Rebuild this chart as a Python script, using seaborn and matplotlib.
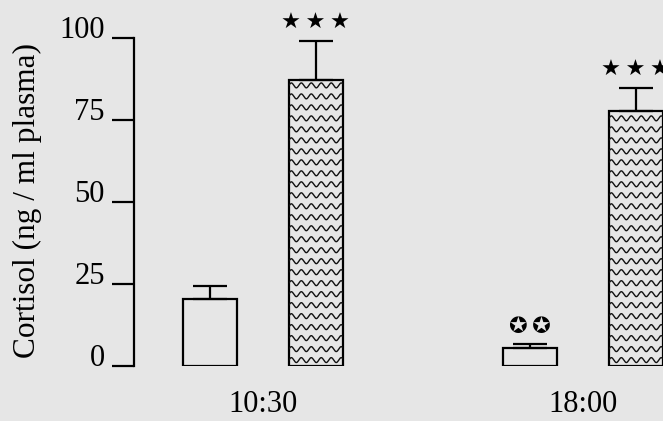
import numpy as np
import pandas as pd
import matplotlib
matplotlib.use("Agg")
import matplotlib.pyplot as plt
import seaborn as sns

# data
times = ['10:30', '18:00']
groups = ['control', 'treated']
time_col = ['10:30', '10:30', '18:00', '18:00']
group_col = ['control', 'treated', 'control', 'treated']
cortisol = [20.4, 87.2, 5.4, 77.8]
sem = [4.0, 12.0, 1.3, 7.1]
marks = ['', '★\u2009★\u2009★', '✪\u2009✪', '★\u2009★\u2009★']
yticks = [0, 25, 50, 75, 100]

bg = '#e6e6e6'

df = pd.DataFrame({'time': time_col, 'group': group_col,
                   'cortisol': cortisol, 'err': sem, 'mark': marks})

sns.set_theme(style='white')
plt.rcParams['font.family'] = ['Liberation Serif', 'DejaVu Sans']

fig = plt.figure(figsize=(6.63, 4.21), dpi=100, facecolor=bg)
ax = fig.add_axes([134 / 663, 55 / 421, 529 / 663, 328 / 421])
ax.set_facecolor(bg)

sns.barplot(data=df, x='time', y='cortisol', hue='group', order=times,
            hue_order=groups, width=0.66, gap=0.49, errorbar=None,
            legend=False, palette=[bg, bg], saturation=1,
            edgecolor='black', linewidth=1.6, ax=ax)

bar_conts = list(ax.containers)
for gi, cont in enumerate(bar_conts):
    for ti, bar in enumerate(cont):
        row = df[(df['time'] == times[ti]) & (df['group'] == groups[gi])].iloc[0]
        bar.set_facecolor(bg)
        x0, w = bar.get_x(), bar.get_width()
        xc = x0 + w / 2
        top = bar.get_height()
        ax.errorbar(xc, top, yerr=[[0], [row['err']]], color='black', lw=1.6,
                    capsize=12.5, capthick=1.6, zorder=1)
        if row['mark']:
            ax.annotate(row['mark'], (xc, top + row['err']), xytext=(0, 12.5),
                        textcoords='offset points', ha='center', va='center',
                        fontsize=16, family='DejaVu Sans', color='black',
                        annotation_clip=False)
        if groups[gi] == 'treated':
            # wavy fill pattern, clipped to the bar
            xs = np.linspace(x0, x0 + w, 300)
            period = w / 5.4
            for base in np.arange(1.8, top, 3.35):
                ys = base + 0.75 * np.sin(2 * np.pi * (xs - x0) / period)
                ln, = ax.plot(xs, ys, color='#111111', lw=1.0)
                ln.set_clip_path(bar)

ax.set_ylim(0, 100)
ax.set_xlim(-0.403, 1.25)
ax.set_yticks(yticks)
ax.set_xlabel('')
ax.set_ylabel('')
sns.despine(ax=ax, top=True, right=True, bottom=True)
ax.spines['left'].set_color('black')
ax.spines['left'].set_linewidth(1.6)
ax.spines['left'].set_bounds(0, 100)
ax.tick_params(axis='y', left=True, direction='out', length=16, width=1.6,
               pad=5, labelsize=22, colors='black')
ax.tick_params(axis='x', length=0, pad=17, labelsize=22, colors='black')
for lbl in ax.get_yticklabels():
    lbl.set_va('baseline')

fig.text(27 / 663, 1 - 200 / 421, 'Cortisol (ng / ml plasma)', rotation=90,
         ha='center', va='center', fontsize=22.5, color='black')

fig.savefig('out.png', dpi=100, facecolor=bg)
